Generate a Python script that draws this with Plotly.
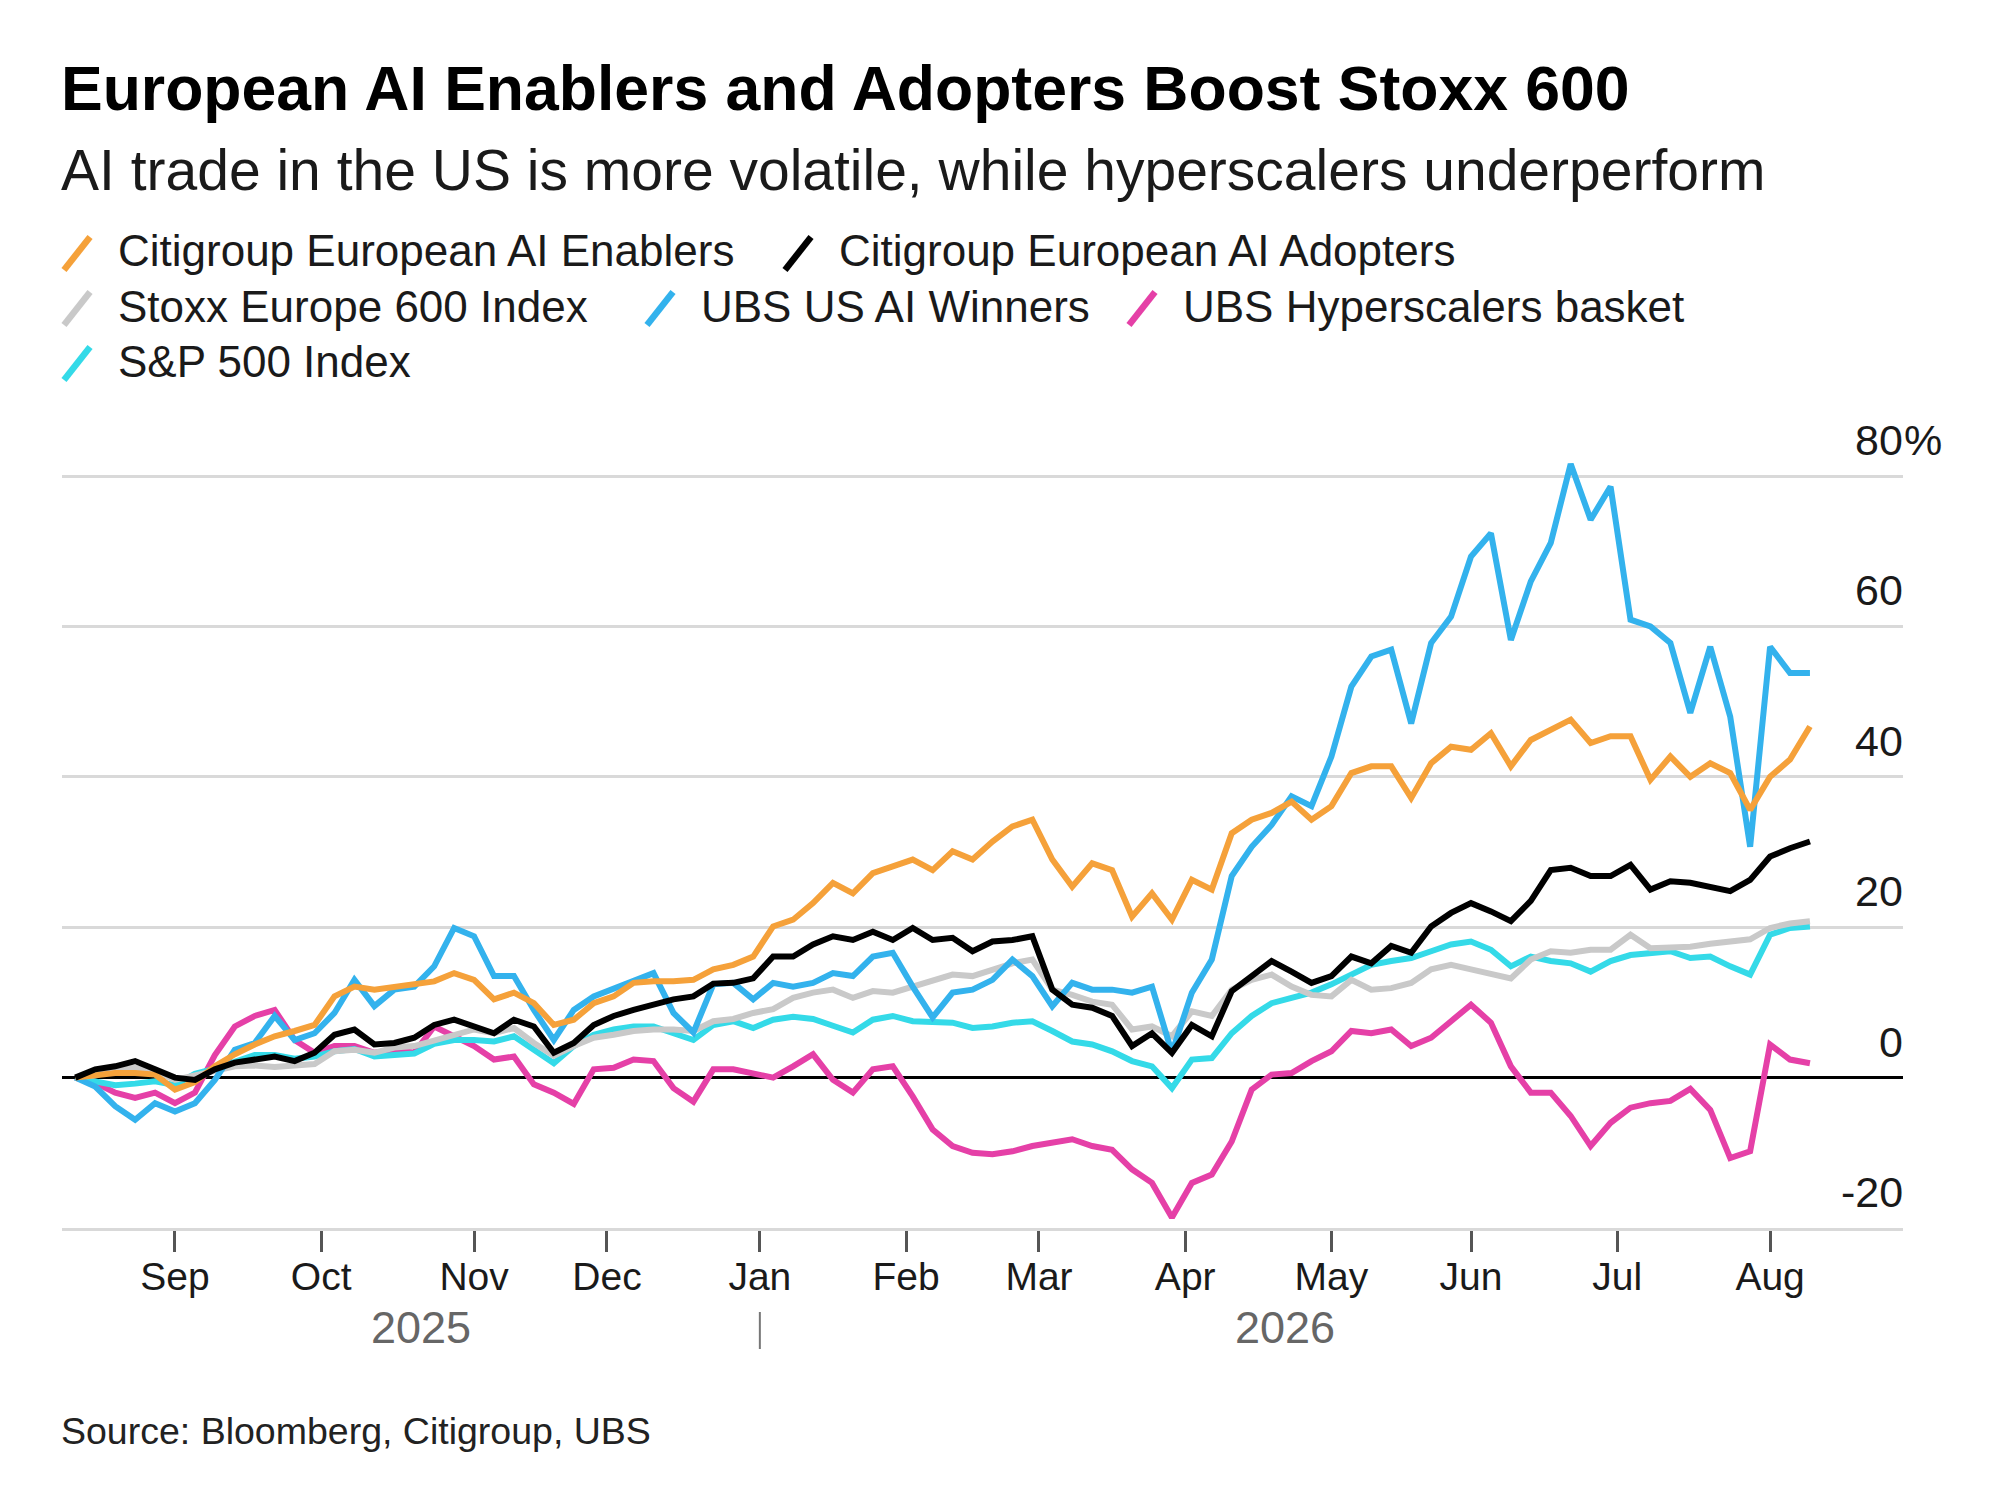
import pandas as pd
import plotly.graph_objects as go

# every third trading day, 11 Aug 2025 .. 11 Aug 2026 (weekends are dropped on the axis)
dates = pd.bdate_range("2025-08-11", "2026-08-11", freq="3B")

# % change since start
enablers = [0.0, 0.4, 0.6, 0.6, 0.4, -1.6, -0.6, 1.5, 3.1, 4.4,
            5.5, 6.2, 7.0, 10.8, 12.1, 11.7, 12.1, 12.6, 12.8, 13.9,
            13.0, 10.4, 11.3, 9.9, 7.0, 7.7, 9.9, 10.8, 12.6, 12.8,
            12.8, 13.0, 14.4, 15.0, 16.1, 20.1, 21.0, 23.2, 25.9, 24.5,
            27.2, 28.1, 29.0, 27.6, 30.1, 29.0, 31.4, 33.4, 34.3, 29.0,
            25.4, 28.5, 27.6, 21.4, 24.5, 21.0, 26.3, 25.0, 32.5, 34.3,
            35.2, 36.7, 34.3, 36.1, 40.5, 41.4, 41.4, 37.2, 41.8, 44.0,
            43.6, 45.8, 41.4, 44.9, 46.2, 47.6, 44.5, 45.4, 45.4, 39.6,
            42.7, 40.0, 41.8, 40.5, 35.6, 40.0, 42.3, 46.7]
adopters = [0.0, 1.1, 1.5, 2.2, 1.1, 0.0, -0.3, 1.1, 2.0, 2.4,
            2.8, 2.2, 3.3, 5.7, 6.4, 4.4, 4.6, 5.3, 7.0, 7.7,
            6.9, 5.9, 7.7, 6.8, 3.3, 4.6, 7.0, 8.2, 9.0, 9.7,
            10.4, 10.8, 12.5, 12.6, 13.2, 16.1, 16.1, 17.7, 18.8, 18.3,
            19.4, 18.3, 19.9, 18.3, 18.6, 16.8, 18.1, 18.3, 18.8, 11.7,
            9.7, 9.3, 8.2, 4.2, 5.9, 3.3, 7.0, 5.5, 11.5, 13.5,
            15.5, 14.1, 12.6, 13.5, 16.1, 15.2, 17.5, 16.6, 20.1, 21.9,
            23.2, 22.1, 20.8, 23.5, 27.6, 27.9, 26.8, 26.8, 28.3, 25.0,
            26.1, 25.9, 25.4, 24.8, 26.3, 29.4, 30.5, 31.4]
stoxx600 = [0.0, 0.3, 1.0, 1.3, 0.8, -0.3, 0.3, 1.0, 1.5, 1.6,
            1.4, 1.6, 1.8, 3.5, 3.7, 3.3, 4.0, 4.2, 5.0, 5.6,
            6.4, 5.9, 6.6, 4.6, 2.9, 4.2, 5.3, 5.7, 6.2, 6.4,
            6.4, 6.2, 7.5, 7.8, 8.6, 9.1, 10.6, 11.3, 11.7, 10.6,
            11.5, 11.3, 12.1, 12.8, 13.7, 13.5, 14.4, 15.2, 15.7, 11.7,
            11.0, 10.1, 9.7, 6.4, 6.8, 5.5, 8.8, 8.2, 11.7, 13.0,
            13.7, 12.1, 11.0, 10.8, 13.0, 11.7, 11.9, 12.6, 14.4, 15.0,
            14.4, 13.9, 13.2, 15.7, 16.8, 16.6, 17.0, 17.0, 19.0, 17.2,
            17.4, 17.4, 17.8, 18.1, 18.4, 19.9, 20.5, 20.8]
us_ai_winners = [0.0, -1.2, -3.8, -5.6, -3.4, -4.5, -3.4, -0.3, 3.7, 4.6,
                 8.2, 5.0, 5.9, 8.6, 13.0, 9.5, 11.7, 12.1, 14.8, 19.9,
                 18.8, 13.5, 13.5, 9.0, 5.0, 9.0, 10.8, 11.9, 12.8, 13.9,
                 8.6, 6.0, 12.4, 12.6, 10.4, 12.6, 12.1, 12.6, 13.9, 13.5,
                 16.1, 16.6, 12.1, 8.0, 11.3, 11.7, 13.0, 15.7, 13.5, 9.5,
                 12.6, 11.7, 11.7, 11.3, 12.1, 3.3, 11.3, 15.7, 26.8, 30.7,
                 33.6, 37.4, 36.1, 42.7, 52.0, 56.0, 56.9, 47.1, 57.8, 61.3,
                 69.3, 72.4, 58.2, 66.0, 71.1, 81.6, 74.2, 78.6, 60.9, 60.0,
                 57.8, 48.5, 57.3, 48.0, 30.7, 57.3, 53.8, 53.8]
hyperscalers = [0.0, -0.7, -2.0, -2.7, -2.0, -3.4, -2.0, 3.0, 6.8, 8.2,
                9.0, 5.0, 3.3, 4.2, 4.2, 3.3, 3.7, 3.3, 6.8, 5.5,
                4.2, 2.4, 2.8, -0.9, -2.0, -3.5, 1.1, 1.3, 2.4, 2.2,
                -1.4, -3.2, 1.1, 1.1, 0.6, 0.0, 1.5, 3.1, -0.3, -2.0,
                1.1, 1.5, -2.5, -6.9, -9.1, -10.0, -10.2, -9.8, -9.1, -8.7,
                -8.2, -9.1, -9.6, -12.2, -14.0, -18.6, -14.0, -12.9, -8.5, -1.6,
                0.4, 0.6, 2.2, 3.5, 6.2, 5.9, 6.4, 4.2, 5.3, 7.5,
                9.7, 7.3, 1.5, -2.0, -2.0, -5.1, -9.1, -6.0, -4.0, -3.4,
                -3.1, -1.5, -4.3, -10.7, -9.8, 4.4, 2.4, 1.9]
sp500 = [0.0, -0.5, -1.0, -0.8, -0.5, -1.0, 0.5, 1.2, 2.0, 3.0,
         3.0, 2.5, 2.8, 3.5, 3.8, 2.8, 3.0, 3.2, 4.5, 5.0,
         5.0, 4.8, 5.5, 3.7, 1.9, 4.2, 5.7, 6.4, 6.8, 6.8,
         5.9, 5.0, 7.0, 7.5, 6.6, 7.7, 8.1, 7.8, 6.9, 6.0,
         7.7, 8.2, 7.5, 7.3, 7.3, 6.6, 6.8, 7.3, 7.5, 6.2,
         4.8, 4.4, 3.5, 2.2, 1.5, -1.4, 2.4, 2.6, 5.9, 8.2,
         9.9, 10.6, 11.3, 12.4, 13.7, 15.0, 15.5, 15.9, 16.8, 17.7,
         18.1, 17.0, 14.8, 16.1, 15.5, 15.2, 14.1, 15.5, 16.3, 16.6,
         16.8, 15.9, 16.1, 14.8, 13.7, 19.0, 19.9, 20.1]

month_ticks = ["2025-09-01", "2025-10-01", "2025-11-03", "2025-12-01", "2026-01-01",
               "2026-02-02", "2026-03-02", "2026-04-01", "2026-05-01", "2026-06-01",
               "2026-07-01", "2026-08-03"]
month_labels = ["Sep", "Oct", "Nov", "Dec", "Jan", "Feb", "Mar", "Apr", "May", "Jun", "Jul", "Aug"]
y_ticks = [-20, 0, 20, 40, 60, 80]
y_labels = ["-20", "0", "20", "40", "60", "80"]

names = ["Citigroup European AI Enablers", "Citigroup European AI Adopters",
         "Stoxx Europe 600 Index", "UBS US AI Winners", "UBS Hyperscalers basket",
         "S&P 500 Index"]
colors = ["#F5A13A", "#000000", "#C9C9C9", "#33B2ED", "#E540A7", "#34DAE8"]
values = [enablers, adopters, stoxx600, us_ai_winners, hyperscalers, sp500]

FONT = "Liberation Sans, Arial, sans-serif"
OFF = 8                                 # page body margin
W, H = 2000 - 2 * OFF, 1494 - 2 * OFF
PL, PR, PT, PB = 62, 1903, 461, 1228    # plot area, page pixels


def paper_x(x):
    return (x - PL) / (PR - PL)


def paper_y(y):
    return (PB - y) / (PB - PT)


fig = go.Figure()
# drawing order: pink, cyan, grey, blue, orange, black on top
for i in [4, 5, 2, 3, 0, 1]:
    fig.add_trace(go.Scatter(x=dates, y=values[i], mode="lines", name=names[i],
                             line=dict(color=colors[i], width=6), showlegend=False))

annotations = []
shapes = []

annotations.append(dict(text="<b>European AI Enablers and Adopters Boost Stoxx 600</b>",
                        x=paper_x(59), y=paper_y(88), xanchor="left", yanchor="middle",
                        font=dict(size=62.5, color="#000000", family=FONT)))
annotations.append(dict(text="AI trade in the US is more volatile, while hyperscalers underperform",
                        x=paper_x(59), y=paper_y(170), xanchor="left", yanchor="middle",
                        font=dict(size=57, color="#1a1a1a", family=FONT)))

# custom legend with slanted swatches
legend_pos = [(119, 251), (840, 251), (119, 306), (702, 306), (1184, 306), (119, 361)]
for (xt, yc), name, color in zip(legend_pos, names, colors):
    annotations.append(dict(text=name, x=paper_x(xt - 3), y=paper_y(yc), xanchor="left",
                            yanchor="middle", font=dict(size=44, color="#1a1a1a", family=FONT)))
    shapes.append(dict(type="line", xref="paper", yref="paper",
                       x0=paper_x(xt - 55), y0=paper_y(yc + 19),
                       x1=paper_x(xt - 29), y1=paper_y(yc - 14),
                       line=dict(color=color, width=6.5)))

# y tick labels sit above their gridlines, numbers right-aligned at the plot edge
for v, lab in zip(y_ticks, y_labels):
    annotations.append(dict(text=lab, x=1, xanchor="right", xshift=2, y=v, yref="y",
                            yanchor="middle", yshift=36,
                            font=dict(size=43, color="#1a1a1a", family=FONT)))
annotations.append(dict(text="%", x=1, xanchor="left", xshift=-1, y=y_ticks[-1], yref="y",
                        yanchor="middle", yshift=36,
                        font=dict(size=43, color="#1a1a1a", family=FONT)))

for yr, d in [("2025", "2025-10-22"), ("2026", "2026-04-22")]:
    annotations.append(dict(text=yr, x=d, xref="x", y=paper_y(1327), yanchor="middle",
                            font=dict(size=45, color="#666666", family=FONT)))
shapes.append(dict(type="line", xref="x", yref="paper", x0="2026-01-01", x1="2026-01-01",
                   y0=paper_y(1312), y1=paper_y(1349), line=dict(color="#777777", width=2)))

annotations.append(dict(text="Source: Bloomberg, Citigroup, UBS", x=paper_x(59), y=paper_y(1431),
                        xanchor="left", yanchor="middle",
                        font=dict(size=37.5, color="#222222", family=FONT)))

for a in annotations:
    a.setdefault("xref", "paper")
    a.setdefault("yref", "paper")
    a["showarrow"] = False

fig.update_layout(
    width=W, height=H, autosize=False,
    margin=dict(l=PL - OFF, r=(W + OFF) - PR, t=PT - OFF, b=(H + OFF) - PB, pad=0),
    paper_bgcolor="white", plot_bgcolor="white",
    font=dict(family=FONT, color="#1a1a1a"),
    annotations=annotations, shapes=shapes,
    hovermode=False,
    xaxis=dict(type="date", range=["2025-08-07", "2026-08-31"],
               rangebreaks=[dict(bounds=["sat", "mon"])],
               tickvals=month_ticks, ticktext=month_labels,
               ticks="outside", ticklen=21, tickwidth=3, tickcolor="#555555",
               ticklabelstandoff=-9,
               tickfont=dict(size=39, color="#1a1a1a"),
               showgrid=False, showline=True, linecolor="#d9d9d9", linewidth=3,
               zeroline=False),
    yaxis=dict(range=[-20, 82], tickvals=y_ticks, showticklabels=False, side="right",
               ticks="",
               showgrid=True, gridcolor="#d9d9d9", gridwidth=3,
               zeroline=True, zerolinecolor="#000000", zerolinewidth=3,
               showline=False),
)

fig.write_html("out.html")
